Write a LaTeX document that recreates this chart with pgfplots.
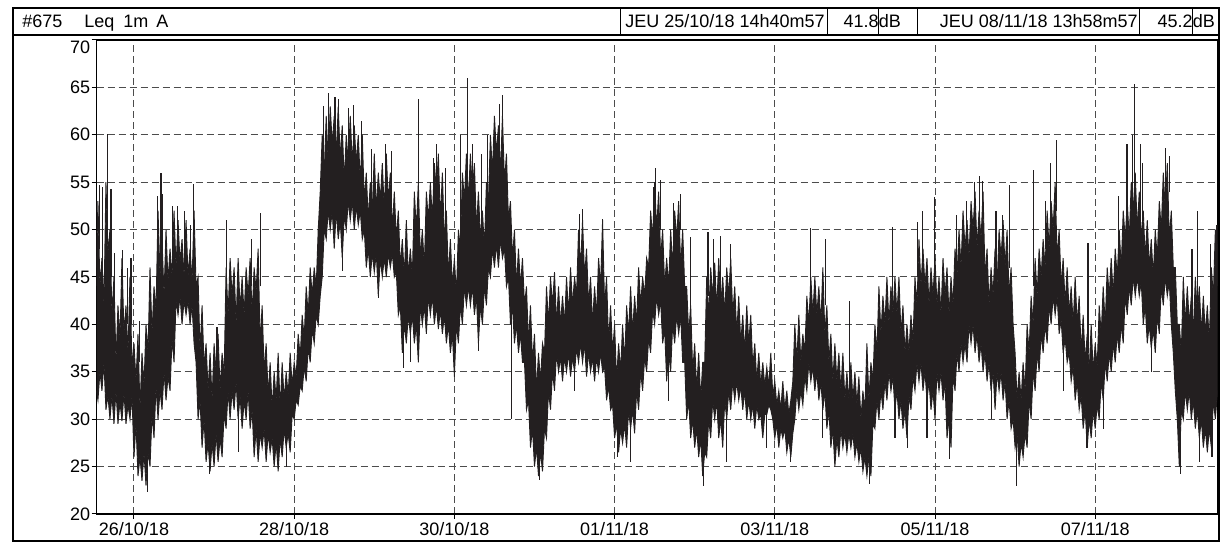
\documentclass[border=0pt]{standalone}
\usepackage{fontspec}
\setmainfont{Liberation Sans}
\usepackage{pgfplots}
\pgfplotsset{compat=1.18}
\usepackage{pgfplotstable}
\usepgfplotslibrary{fillbetween}
\definecolor{ink}{RGB}{35,31,32}

% envelope of the 1-minute Leq series (upper / lower fringe), t = days since 25/10/18 00:00
\pgfplotstableread{
t hi lo
0.532 46 33
0.55 53 32
0.575 44 35
0.60 47 33
0.625 42 36
0.65 55 31
0.675 47.5 32.5
0.70 50 30
0.725 41 32.5
0.75 45 29.5
0.775 36 33
0.80 42 29.5
0.825 38.5 31.8
0.85 47 29.8
0.875 39 32.8
0.90 42 29.5
0.925 37 31.5
0.95 45 30
0.975 35.5 32.5
1.00 38 26
1.025 34 29.5
1.05 39 24
1.075 31 26
1.10 37 23.5
1.125 33.5 26.5
1.15 40 23
1.175 37 26.5
1.20 46 25
1.225 39 30.5
1.25 44 28
1.275 41.5 33.5
1.30 52 30
1.325 45 33
1.35 49 31
1.375 43 35
1.40 50 32
1.425 44.5 34.5
1.45 48 33
1.475 45 38.5
1.50 52 36
1.525 46 42.5
1.55 51 41
1.575 46.5 43
1.60 49 40
1.625 45 42.5
1.65 51 41
1.675 45 42.5
1.70 48 40
1.725 44.5 42
1.75 52 38
1.775 44 36
1.80 45 30
1.825 37 32
1.85 42 27
1.875 35.5 30
1.90 38 25.5
1.925 33 27.5
1.95 37 24.5
1.975 32 27.5
2.00 38 25
2.025 35 28.5
2.05 39 25.5
2.075 33 28
2.10 37 26
2.125 34.5 30.5
2.15 46 29
2.175 41 33
2.20 47 30
2.225 43 33
2.25 46 31
2.275 40 34
2.30 47 30
2.325 41.5 32.5
2.35 45 29
2.375 41 32
2.40 46 30
2.425 43 33
2.45 47 29
2.475 41 31
2.50 46 26
2.525 43.5 29
2.55 48 25.5
2.575 38 28.5
2.60 42 27
2.625 35 29
2.65 38 25.5
2.675 32.5 28.5
2.70 36 26.5
2.725 31 28
2.75 35 25
2.775 32 27.5
2.80 37 24.5
2.825 31 28
2.85 36 26
2.875 32 29
2.90 35 27
2.925 32.5 28.5
2.95 37 26.5
2.975 33.5 30.5
3.00 36 30
3.025 34.5 32
3.05 39 31.5
3.075 36.5 33.5
3.10 41 33
3.125 38.5 35.5
3.15 44 34
3.175 41 37.5
3.20 46 36
3.225 43 39.5
3.25 46 38
3.275 44 41
3.30 50 40
3.325 54 43
3.35 60 45
3.375 56 50
3.40 62 49
3.425 57 52
3.45 63 50
3.475 59 52
3.50 62 48
3.525 58 52
3.55 63 49
3.575 57.5 51
3.60 61 47
3.625 55 51.5
3.65 60 50
3.675 57 53
3.70 62 51
3.725 57 53
3.75 61 50
3.775 57 52.5
3.80 60 50.5
3.825 55 52
3.85 60 49
3.875 53 50
3.90 56 46
3.925 51 48
3.95 55 45
3.975 52 47.5
4.00 58 45.5
4.025 52 47.5
4.05 56 43
4.075 53 47
4.10 57 45
4.125 52 47
4.15 58 45
4.175 53 47.5
4.20 56 46
4.225 50 47.5
4.25 54 45
4.275 49 45.5
4.30 52 41
4.325 46 42
4.35 49 37
4.375 45 40
4.40 51 38
4.425 45 41
4.45 48 39
4.475 45 41
4.50 54 38
4.525 50 40
4.55 55 36
4.575 47 42
4.60 50 40
4.625 46 42
4.65 54 39
4.675 51 43
4.70 55 41
4.725 51 43
4.75 57 40
4.775 54 42
4.80 58 39.5
4.825 51 41.5
4.85 56 39
4.875 49 41
4.90 52 38
4.925 45 40
4.95 49 37
4.975 44 39
5.00 47 34.5
5.025 43 40
5.05 50 38
5.075 48 42
5.10 56 40
5.125 53 44
5.15 58 42
5.175 53 44
5.20 58 42
5.225 54 44
5.25 57 41
5.275 50 43
5.30 54 38
5.325 49 42
5.35 52 40
5.375 48 44
5.40 55 42
5.425 53 46
5.45 60 45
5.475 56 48
5.50 62 46
5.525 58 48.5
5.55 61 46
5.575 56 49
5.60 62 47
5.625 55 48
5.65 58 44
5.675 51 45
5.70 53 40
5.725 47 42
5.75 50 38
5.775 44 40
5.80 48 37
5.825 44 39
5.85 47 36
5.875 42 36
5.90 44 31
5.925 38 32
5.95 42 27
5.975 36 29
6.00 39 25
6.025 33 27
6.05 37 24
6.075 34 26.5
6.10 38 24.5
6.125 37 29
6.15 44 28
6.175 40 33
6.20 45 31
6.225 42 35
6.25 45.5 33
6.275 40 37
6.30 44 35
6.325 40 36.5
6.35 43 34
6.375 40 36.5
6.40 45 35
6.425 41 37
6.45 46 34.5
6.475 42 36.5
6.50 45 35
6.525 43 37.5
6.55 50 36
6.575 46 38
6.60 51 36
6.625 45 38
6.65 48 34.5
6.675 42 37
6.70 45 35
6.725 40 36.5
6.75 44 34
6.775 41 36.5
6.80 47 35
6.825 44 37
6.85 51 35
6.875 42 35.5
6.90 45 32
6.925 38 33.5
6.95 42 31
6.975 37 31.5
7.00 40 28
7.025 34 29.5
7.05 38 26.5
7.075 35 29
7.10 40 27.5
7.125 36 29.5
7.15 42 27
7.175 39 31
7.20 44 29
7.225 39 31
7.25 43 28.5
7.275 40 33
7.30 46 31
7.325 42 35
7.35 45 33
7.375 43 36.5
7.40 47 35
7.425 46 38.5
7.45 52 37
7.475 49 41.5
7.50 55 40
7.525 50 43
7.55 54 41
7.575 47 42.5
7.60 50 38
7.625 44 39.5
7.65 47 34
7.675 44 37
7.70 50 35
7.725 46 40
7.75 52 38
7.775 49 41
7.80 53 39
7.825 46 41
7.85 50 36
7.875 44 36
7.90 44 30
7.925 39 32
7.95 42 28
7.975 35 30
8.00 38 27
8.025 33 29
8.05 37 26
8.075 32 28
8.10 36 24
8.125 36 26.5
8.15 45 26
8.175 41 30
8.20 46 28
8.225 43 32
8.25 46.5 30
8.275 41.5 32
8.30 47 28
8.325 42 30
8.35 45 27
8.375 41 32
8.40 46 30
8.425 43 33
8.45 47 31
8.475 41 34
8.50 44 32
8.525 39 34
8.55 43 32
8.575 38 33.5
8.60 41 31
8.625 37 33
8.65 42 30
8.675 38 32
8.70 41 30
8.725 35.5 31.5
8.75 38 29
8.775 34 31.5
8.80 37 30
8.825 33.5 30.5
8.85 36 28
8.875 33.5 30.5
8.90 35.5 30.5
8.925 33.5 31.5
8.95 37 31
8.975 32.5 30
9.00 34 28
9.025 31.5 29.5
9.05 33 27
9.075 31 29
9.10 34 28
9.125 31 29
9.15 33 26.5
9.175 30.5 28
9.20 32 26
9.225 34 28.5
9.25 40 30
9.275 36 33
9.30 41 31
9.325 36 33
9.35 39 31.5
9.375 37 34.5
9.40 43 33
9.425 40 36
9.45 45 34
9.475 41 35.5
9.50 45 33
9.525 41 35
9.55 44 32
9.575 40 34
9.60 46 31
9.625 39 33
9.65 42 29
9.675 36 31
9.70 39 27
9.725 34 29
9.75 38 25
9.775 34 28
9.80 37 26
9.825 33 29
9.85 37 27
9.875 32 28.5
9.90 35 26.5
9.925 32 28.5
9.95 36 27
9.975 32 28.5
10.00 35 26
10.025 31.5 27.5
10.05 34.5 25.5
10.075 30 27
10.10 33 24.5
10.125 31 26
10.15 38 24
10.175 32 26
10.20 36 24
10.225 34 29.5
10.25 40 29
10.275 37 32
10.30 44 30
10.325 39 33
10.35 43 31
10.375 40 34
10.40 45 32
10.425 40 35
10.45 44 33
10.475 41 34.5
10.50 45 31
10.525 41 33
10.55 45 30
10.575 39 32
10.60 42 29
10.625 37 31
10.65 40 28
10.675 37 32.5
10.70 41 31
10.725 38 34.5
10.75 45 33
10.775 42 36
10.80 49 34
10.825 44 36
10.85 48 33
10.875 44 35
10.90 47 32
10.925 42 34
10.95 46 31
10.975 43 33
11.00 47 30
11.025 42 35
11.05 45 33
11.075 41 35
11.10 47 32
11.125 43 34
11.15 46 28
11.175 41 30
11.20 45 27
11.225 42 34.5
11.25 48 33
11.275 45 37
11.30 50 35
11.325 46 38
11.35 52 36
11.375 48 38
11.40 51 36
11.425 47 40
11.45 53 38
11.475 50 40
11.50 54 37
11.525 48 39
11.55 52 36
11.575 49 38
11.60 54 35
11.625 45 37
11.65 48 34
11.675 42 36
11.70 46 33
11.725 43 35
11.75 48 31
11.775 44 35
11.80 50 33
11.825 47 35
11.85 51 32
11.875 46 34
11.90 50 30
11.925 43 32
11.95 46 29
11.975 40 30
12.00 37 27
12.025 32 28.5
12.05 35 25
12.075 32 27.5
12.10 36 26
12.125 33 28.5
12.15 40 27
12.175 37 32
12.20 43 30
12.225 40 35
12.25 47 33
12.275 43 37
12.30 48 35
12.325 45 39
12.35 49 37
12.375 46 40
12.40 52 38
12.425 48 42
12.45 53 40
12.475 50 43
12.50 55 41
12.525 47 43
12.55 50 39
12.575 44 40.5
12.60 47 37
12.625 42 38.5
12.65 46 36
12.675 41 37
12.70 44 34
12.725 40 35.5
12.75 45 32
12.775 40 34
12.80 43 31
12.825 37 32.5
12.85 41 29
12.875 36 31
12.90 39 27
12.925 35 30
12.95 40 28
12.975 35 31
13.00 38 29
13.025 35.5 31.5
13.05 42 30
13.075 39 34
13.10 44 32
13.125 40 36
13.15 46 34
13.175 43 37
13.20 47 35
13.225 43 38
13.25 48 36
13.275 45 39
13.30 50 37
13.325 46 40
13.35 52 38
13.375 49 43
13.40 53 41
13.425 49 44
13.45 55 42
13.475 52 45
13.50 56 43
13.525 50 45
13.55 54 43
13.575 49 44.5
13.60 52 40
13.625 47 42
13.65 51 38
13.675 46 40
13.70 49 37.5
13.725 45 39.5
13.75 50 37
13.775 47 41
13.80 53 39
13.825 50 44
13.85 56 42
13.875 52 45
13.90 57 43
13.925 49 44.5
13.95 52 40
13.975 46 37
14.00 46 33
14.025 40 30
14.05 40 25
14.075 37 31
14.10 45 30
14.125 40 33
14.15 44 31
14.175 40 33
14.20 43 30
14.225 39 32
14.25 45 29
14.275 41 31
14.30 44 28
14.325 39 30
14.35 43 27
14.375 39 29
14.40 42 26.5
14.425 38 29
14.45 46 27
14.475 43 32
14.50 50 30
14.527 48 33
}\envdata

% isolated peaks and dips (vertical strokes, separated by nan)
\pgfplotstableread{
t y
0.53 44
0.53 53
0.53 nan
0.568 48
0.568 54.7
0.568 nan
0.61 45
0.61 54.5
0.61 nan
0.672 50
0.672 60.1
0.672 nan
0.713 45
0.713 54.3
0.713 nan
0.755 43
0.755 47.5
0.755 nan
0.859 42
0.859 47.8
0.859 nan
0.92 40
0.92 46
0.92 nan
0.963 40
0.963 47
0.963 nan
1.067 36
1.067 40.4
1.067 nan
1.296 47
1.296 53.5
1.296 nan
1.337 46
1.337 56
1.337 nan
1.358 45
1.358 53.8
1.358 nan
1.483 46
1.483 52.5
1.483 nan
1.545 48
1.545 52.5
1.545 nan
1.628 46
1.628 52
1.628 nan
1.711 45
1.711 50.5
1.711 nan
1.745 48
1.745 54.8
1.745 nan
2.036 35
2.036 39.7
2.036 nan
2.16 44
2.16 51
2.16 nan
2.47 44
2.47 49
2.47 nan
2.576 44
2.576 51.8
2.576 nan
3.366 56
3.366 63
3.366 nan
3.428 58
3.428 64.4
3.428 nan
3.51 58
3.51 64
3.51 nan
3.553 59
3.553 63.8
3.553 nan
3.678 57
3.678 62.8
3.678 nan
3.74 58
3.74 63.1
3.74 nan
3.844 56
3.844 61.5
3.844 nan
3.969 52
3.969 58.5
3.969 nan
4.135 53
4.135 59
4.135 nan
4.218 52
4.218 58.3
4.218 nan
4.551 50
4.551 63.8
4.551 nan
4.738 52
4.738 57.5
4.738 nan
4.78 54
4.78 59
4.78 nan
4.884 50
4.884 56.5
4.884 nan
5.079 48
5.079 60
5.079 nan
5.163 55
5.163 66
5.163 nan
5.23 54
5.23 59
5.23 nan
5.333 50
5.333 58
5.333 nan
5.417 51
5.417 60
5.417 nan
5.5 58
5.5 61.5
5.5 nan
5.562 57
5.562 63.2
5.562 nan
5.604 58
5.604 64.2
5.604 nan
6.56 46
6.56 51.6
6.56 nan
6.6 47
6.6 52.2
6.6 nan
6.85 47
6.85 51.1
6.85 nan
7.483 50
7.483 54.5
7.483 nan
7.51 50
7.51 56.5
7.51 nan
7.571 50
7.571 55.2
7.571 nan
7.737 47
7.737 52.8
7.737 nan
7.82 50
7.82 53.8
7.82 nan
7.946 40
7.946 49.2
7.946 nan
8.166 43
8.166 49.7
8.166 nan
8.237 42
8.237 49
8.237 nan
8.32 42
8.32 49.3
8.32 nan
8.445 44
8.445 48.5
8.445 nan
9.443 42
9.443 50.2
9.443 nan
9.63 42
9.63 49
9.63 nan
9.93 33
9.93 42.5
9.93 nan
10.465 42
10.465 50.3
10.465 nan
10.785 45
10.785 50.8
10.785 nan
10.848 44
10.848 52
10.848 nan
10.993 44
10.993 53.4
10.993 nan
11.264 44
11.264 51.5
11.264 nan
11.388 47
11.388 53
11.388 nan
11.492 50
11.492 55
11.492 nan
11.555 48
11.555 55.7
11.555 nan
11.588 50
11.588 55.1
11.588 nan
11.762 44
11.762 52
11.762 nan
11.846 48
11.846 51.5
11.846 nan
11.93 46
11.93 54.7
11.93 nan
12.233 44
12.233 56.3
12.233 nan
12.378 48
12.378 53
12.378 nan
12.44 49
12.44 57
12.44 nan
12.516 52
12.516 59.4
12.516 nan
12.91 37
12.91 48.6
12.91 nan
13.293 46
13.293 53.5
13.293 nan
13.397 50
13.397 59
13.397 nan
13.46 51
13.46 60
13.46 nan
13.489 53
13.489 65.4
13.489 nan
13.564 50
13.564 59
13.564 nan
13.585 51
13.585 57
13.585 nan
13.875 52
13.875 58.6
13.875 nan
13.93 54
13.93 57.8
13.93 nan
14.208 40
14.208 48
14.208 nan
14.279 42
14.279 52
14.279 nan
14.437 42
14.437 48.5
14.437 nan
14.52 44
14.52 50.5
14.52 nan
1.17 26
1.17 22.3
1.17 nan
1.94 27
1.94 24.2
1.94 nan
2.3 32
2.3 26.5
2.3 nan
2.9 29
2.9 25
2.9 nan
3.607 50
3.607 45.6
3.607 nan
4.05 46
4.05 42.8
4.05 nan
4.364 40
4.364 35.4
4.364 nan
4.45 41
4.45 36
4.45 nan
5.0 38
5.0 34.5
5.0 nan
5.304 40
5.304 37.2
5.304 nan
5.708 43
5.708 30
5.708 nan
6.061 27
6.061 23.6
6.061 nan
6.5 37
6.5 33
6.5 nan
7.04 30
7.04 26
7.04 nan
7.2 31
7.2 25.5
7.2 nan
7.675 37
7.675 31.9
7.675 nan
8.112 27
8.112 23
8.112 nan
8.4 32
8.4 25.5
8.4 nan
8.9 32
8.9 27
8.9 nan
9.193 29
9.193 25.5
9.193 nan
9.6 33
9.6 28
9.6 nan
10.18 27
10.18 23.2
10.18 nan
10.5 33
10.5 28
10.5 nan
10.66 31
10.66 27
10.66 nan
10.9 34
10.9 28
10.9 nan
11.18 31
11.18 25.8
11.18 nan
11.7 35
11.7 30
11.7 nan
12.012 29
12.012 23
12.012 nan
12.6 39
12.6 33
12.6 nan
12.898 30
12.898 27
12.898 nan
13.1 34
13.1 29
13.1 nan
13.7 39
13.7 35
13.7 nan
14.063 29
14.063 24.2
14.063 nan
14.3 30
14.3 25.5
14.3 nan
14.458 30
14.458 26
14.458 nan
}\spikedata

\begin{document}
\begin{tikzpicture}[x=0.5pt,y=0.5pt]
\path (0,0) rectangle (1220,544);
\begin{axis}[
  at={(48.25pt,15pt)}, anchor=south west,
  scale only axis, width=560.5pt, height=237pt,
  xmin=0.532, xmax=14.527, ymin=20, ymax=70,
  xtick={1,3,5,7,9,11,13},
  xticklabels={26/10/18,28/10/18,30/10/18,01/11/18,03/11/18,05/11/18,07/11/18},
  ytick={20,25,...,65},
  extra y ticks={70},
  extra y tick style={yticklabel style={anchor=north east}},
  tick align=outside, xtick pos=bottom, ytick pos=left,
  major tick length=2.5pt,
  grid=major,
  major grid style={black!70, line width=0.5pt, dash pattern=on 3.5pt off 2pt},
  axis line style={black, line width=0.6pt},
  tick style={black, line width=0.5pt},
  ticklabel style={font=\fontsize{9}{10}\selectfont},
  yticklabel style={inner sep=0.5pt},
  xticklabel style={inner sep=1.5pt},
  /pgf/number format/assume math mode=true,
  unbounded coords=jump,
]
\addplot[name path=U, draw=ink, line width=0.45pt] table[x=t,y=hi]{\envdata};
\addplot[name path=L, draw=ink, line width=0.45pt] table[x=t,y=lo]{\envdata};
\addplot[fill=ink, draw=none] fill between[of=U and L];
\addplot[draw=ink, line width=0.55pt] table[x=t,y=y]{\spikedata};
\end{axis}
% outer frame and header
\draw[line width=0.6pt] (13,3) rectangle (1219,536);
\draw[line width=0.6pt] (13,509) -- (1219,509);
\foreach \xx in {620,827,878,917,1139,1192}{\draw[line width=0.5pt] (\xx,509) -- (\xx,536);}
\begin{scope}[every node/.style={inner sep=0pt, font=\fontsize{9}{10}\selectfont}]
\node[anchor=base west] at (22,516.5) {\#675};
\node[anchor=base west] at (84,516.5) {Leq};
\node[anchor=base west] at (123,516.5) {1m};
\node[anchor=base west] at (156,516.5) {A};
\node[anchor=base east] at (825,516.5) {JEU 25/10/18 14h40m57};
\node[anchor=base east] at (879,516.5) {41.8};
\node[anchor=base west] at (878.5,516.5) {dB};
\node[anchor=base east] at (1138,516.5) {JEU 08/11/18 13h58m57};
\node[anchor=base east] at (1193,516.5) {45.2};
\node[anchor=base west] at (1192.5,516.5) {dB};
\end{scope}
\end{tikzpicture}
\end{document}
